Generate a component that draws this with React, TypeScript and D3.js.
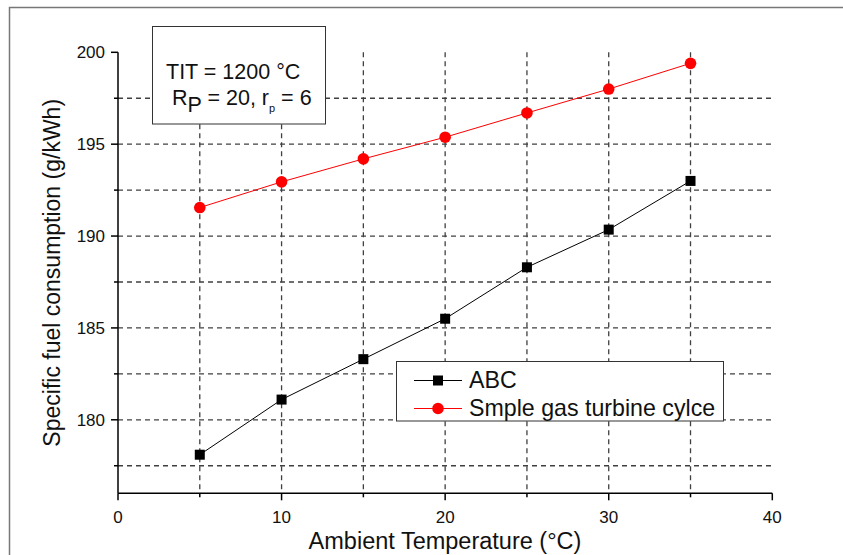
import React from "react";
import * as d3 from "d3";

const temps = [5, 10, 15, 20, 25, 30, 35];
const abcValues = [178.1, 181.1, 183.3, 185.5, 188.3, 190.35, 193.0];
const simpleValues = [191.55, 192.95, 194.2, 195.38, 196.7, 198.0, 199.4];
const seriesNames = ["ABC", "Smple gas turbine cylce"];
const xMajorTicks = [0, 10, 20, 30, 40];
const xMinorTicks = [5, 15, 25, 35];
const yMajorTicks = [180, 185, 190, 195, 200];
const yMinorTicks = [177.5, 182.5, 187.5, 192.5, 197.5];
const xGrid = [5, 10, 15, 20, 25, 30, 35];
const yGrid = [177.5, 180, 182.5, 185, 187.5, 190, 192.5, 195, 197.5];

const W = 843;
const H = 555;
const L = 118, R = 772.3, T = 52.3, B = 493.3;
const font = "Arial, 'Liberation Sans', sans-serif";

export default function App() {
  const x = d3.scaleLinear().domain([0, 40]).range([L, R]);
  const y = d3.scaleLinear().domain([176, 200]).range([B, T]);
  const line = d3.line<number>().x((_, i) => x(temps[i])).y((d) => y(d));
  const gridStyle = { stroke: "#404040", strokeWidth: 1.3, strokeDasharray: "5,4" };

  return (
    <svg width={W} height={H} style={{ position: "absolute", left: 0, top: 0, background: "#fff" }}>
      <rect x={0} y={0} width={W} height={H} fill="#fff" />
      <rect x={9.5} y={7.5} width={W} height={H} fill="none" stroke="#777" strokeWidth={1.5} />
      {/* grid */}
      {yGrid.map((v) => (
        <line key={"yg" + v} x1={L} x2={R} y1={y(v)} y2={y(v)} {...gridStyle} />
      ))}
      {xGrid.map((v) => (
        <line key={"xg" + v} x1={x(v)} x2={x(v)} y1={T} y2={B} {...gridStyle} />
      ))}
      {/* axes */}
      <line x1={L} x2={L} y1={T} y2={B} stroke="#000" strokeWidth={1.5} />
      <line x1={L} x2={R} y1={B} y2={B} stroke="#000" strokeWidth={1.5} />
      {yMajorTicks.map((v) => (
        <g key={"yt" + v}>
          <line x1={L - 7} x2={L} y1={y(v)} y2={y(v)} stroke="#000" strokeWidth={1.5} />
          <text x={L - 13} y={y(v)} dy="0.36em" textAnchor="end" fontSize={17} fontFamily={font} fill="#111">{v}</text>
        </g>
      ))}
      {yMinorTicks.map((v) => (
        <line key={"ym" + v} x1={L - 4} x2={L} y1={y(v)} y2={y(v)} stroke="#000" strokeWidth={1.5} />
      ))}
      {xMajorTicks.map((v) => (
        <g key={"xt" + v}>
          <line x1={x(v)} x2={x(v)} y1={B} y2={B + 7} stroke="#000" strokeWidth={1.5} />
          <text x={x(v)} y={B + 30} textAnchor="middle" fontSize={17} fontFamily={font} fill="#111">{v}</text>
        </g>
      ))}
      {xMinorTicks.map((v) => (
        <line key={"xm" + v} x1={x(v)} x2={x(v)} y1={B} y2={B + 4} stroke="#000" strokeWidth={1.5} />
      ))}
      {/* labels */}
      <text x={445} y={549} textAnchor="middle" fontSize={23.5} fontFamily={font} fill="#111">Ambient Temperature (°C)</text>
      <text transform={`translate(60,${(T + B) / 2}) rotate(-90)`} textAnchor="middle" fontSize={23} fontFamily={font} fill="#111">
        Specific fuel consumption (g/kWh)
      </text>
      {/* series */}
      <path d={line(abcValues) || ""} fill="none" stroke="#000" strokeWidth={1} />
      <path d={line(simpleValues) || ""} fill="none" stroke="#f00" strokeWidth={1} />
      {abcValues.map((v, i) => (
        <rect key={"a" + i} x={x(temps[i]) - 5} y={y(v) - 5} width={10} height={10} fill="#000" />
      ))}
      {simpleValues.map((v, i) => (
        <circle key={"s" + i} cx={x(temps[i])} cy={y(v)} r={5.8} fill="#f00" />
      ))}
      {/* annotation box */}
      <rect x={152.5} y={26.5} width={173} height={97.5} fill="#fff" stroke="#333" strokeWidth={1} />
      <text x={166} y={78.5} fontSize={21.5} fontFamily={font} fill="#111">TIT = 1200 °C</text>
      <text x={172} y={105} fontSize={21.5} fontFamily={font} fill="#111">
        R<tspan dy={7} fontSize={21.5}>P</tspan><tspan dy={-7}> = 20, r</tspan><tspan dy={7} fontSize={11} fill="#111">p</tspan><tspan dy={-7}> = 6</tspan>
      </text>
      {/* legend */}
      <rect x={396.5} y={361.5} width={327} height={59.5} fill="#fff" stroke="#333" strokeWidth={1} />
      <line x1={414} x2={462} y1={380.5} y2={380.5} stroke="#000" strokeWidth={1} />
      <rect x={433} y={375.5} width={10} height={10} fill="#000" />
      <text x={469} y={387.5} fontSize={23.2} fontFamily={font} fill="#111">{seriesNames[0]}</text>
      <line x1={414} x2={462} y1={408.5} y2={408.5} stroke="#f00" strokeWidth={1} />
      <circle cx={438} cy={408.5} r={5.8} fill="#f00" />
      <text x={469} y={415.5} fontSize={23.2} fontFamily={font} fill="#111">{seriesNames[1]}</text>
    </svg>
  );
}
